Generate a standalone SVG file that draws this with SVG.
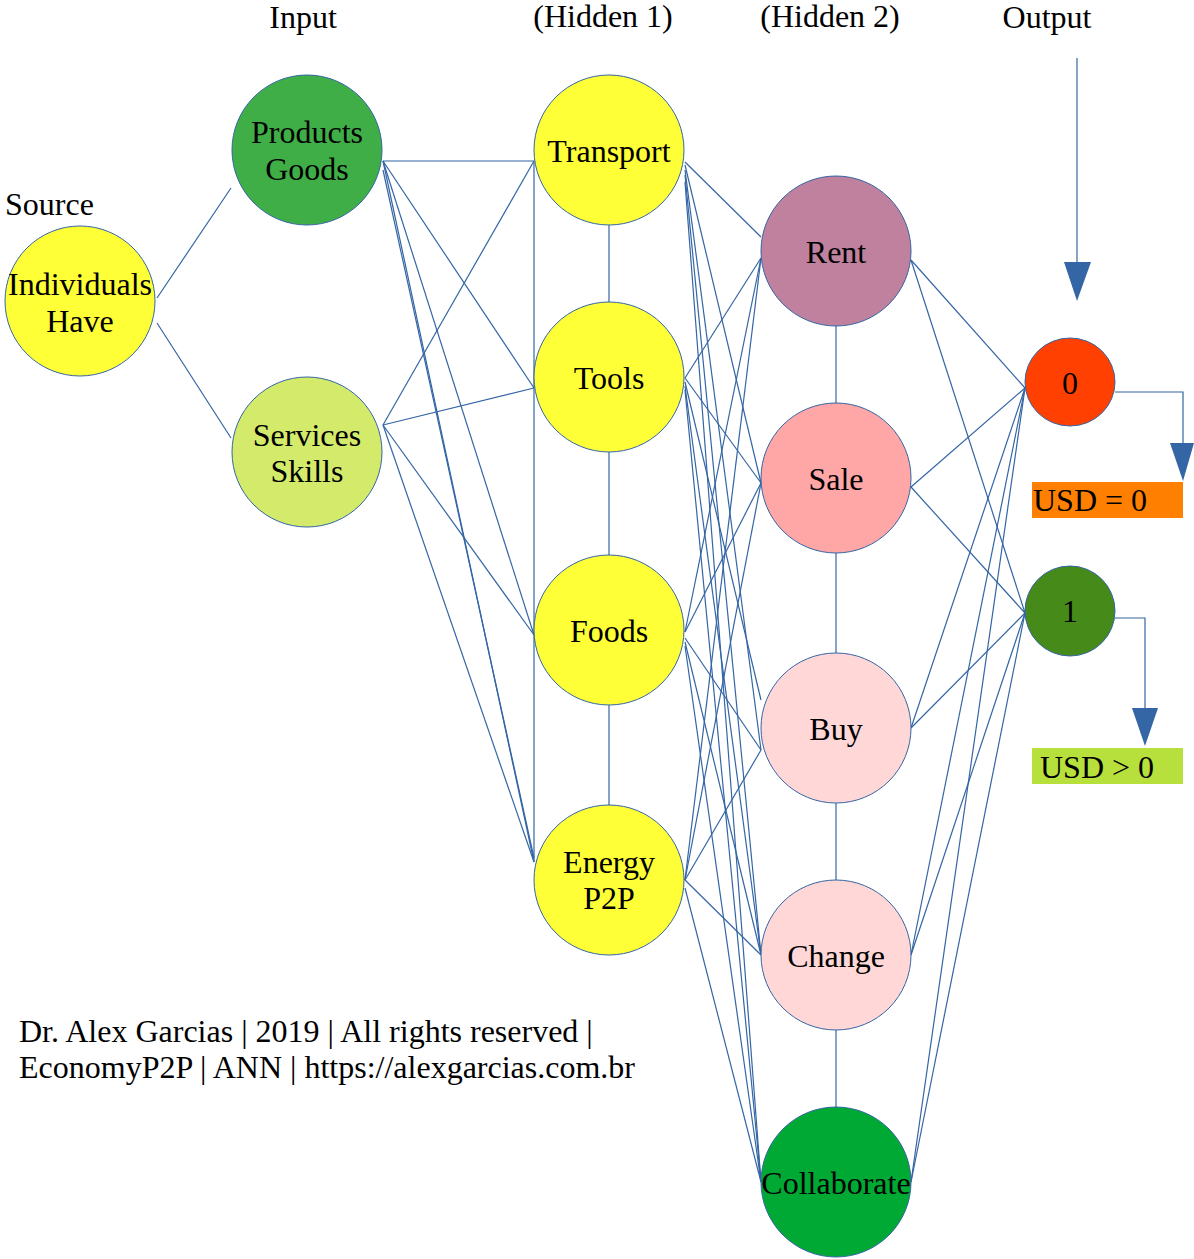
<svg xmlns="http://www.w3.org/2000/svg" width="1194" height="1259" viewBox="0 0 1194 1259">
<style>
.c{stroke:#3465a4;stroke-width:1}
.l{stroke:#3465a4;stroke-width:1.2;fill:none}
.t{font-family:"Liberation Serif","Times New Roman",serif;font-size:32px;fill:#000}
.m{text-anchor:middle}
</style>
<rect width="1194" height="1259" fill="#fff"/>
<g id="labels">
<text class="t m" x="303" y="28">Input</text>
<text class="t m" x="603" y="27">(Hidden 1)</text>
<text class="t m" x="830" y="27">(Hidden 2)</text>
<text class="t m" x="1047" y="28">Output</text>
<text class="t" x="5" y="215">Source</text>
<text class="t" x="19" y="1042">Dr. Alex Garcias | 2019 | All rights reserved |</text>
<text class="t" x="19" y="1078">EconomyP2P | ANN | https://alexgarcias.com.br</text>
</g>
<g id="connectors" class="l">
<line x1="157" y1="298" x2="231" y2="188"/>
<line x1="157" y1="323" x2="231" y2="438"/>
<line x1="383" y1="161" x2="534" y2="161"/>
<line x1="383" y1="161" x2="534" y2="388"/>
<line x1="383" y1="161" x2="534" y2="635"/>
<line x1="383" y1="161" x2="534" y2="862"/>
<line x1="383" y1="170" x2="534" y2="858"/>
<line x1="383" y1="425" x2="534" y2="161"/>
<line x1="383" y1="425" x2="534" y2="388"/>
<line x1="383" y1="425" x2="534" y2="635"/>
<line x1="383" y1="425" x2="534" y2="862"/>
<line x1="534" y1="161" x2="534" y2="862"/>
<line x1="609" y1="225" x2="609" y2="302"/>
<line x1="609" y1="452" x2="609" y2="555"/>
<line x1="609" y1="705" x2="609" y2="805"/>
<line x1="836" y1="326" x2="836" y2="403"/>
<line x1="836" y1="553" x2="836" y2="653"/>
<line x1="836" y1="803" x2="836" y2="880"/>
<line x1="836" y1="1030" x2="836" y2="1107"/>
<line x1="685" y1="162" x2="761" y2="237"/>
<line x1="685" y1="165" x2="761" y2="483"/>
<line x1="685" y1="170" x2="761" y2="750"/>
<line x1="685" y1="175" x2="761" y2="955"/>
<line x1="685" y1="182" x2="761" y2="1182"/>
<line x1="685" y1="378" x2="761" y2="258"/>
<line x1="685" y1="378" x2="761" y2="483"/>
<line x1="685" y1="382" x2="761" y2="700"/>
<line x1="685" y1="386" x2="761" y2="955"/>
<line x1="685" y1="390" x2="761" y2="1182"/>
<line x1="685" y1="632" x2="761" y2="258"/>
<line x1="685" y1="632" x2="761" y2="483"/>
<line x1="685" y1="638" x2="761" y2="750"/>
<line x1="685" y1="642" x2="761" y2="955"/>
<line x1="685" y1="646" x2="761" y2="1182"/>
<line x1="685" y1="880" x2="761" y2="258"/>
<line x1="685" y1="880" x2="761" y2="483"/>
<line x1="685" y1="880" x2="761" y2="750"/>
<line x1="685" y1="880" x2="761" y2="955"/>
<line x1="685" y1="888" x2="761" y2="1182"/>
<line x1="911" y1="260" x2="1025" y2="388"/>
<line x1="911" y1="260" x2="1025" y2="613"/>
<line x1="911" y1="487" x2="1025" y2="388"/>
<line x1="911" y1="487" x2="1025" y2="613"/>
<line x1="911" y1="728" x2="1025" y2="388"/>
<line x1="911" y1="728" x2="1025" y2="613"/>
<line x1="911" y1="955" x2="1025" y2="388"/>
<line x1="911" y1="955" x2="1025" y2="613"/>
<line x1="911" y1="1182" x2="1025" y2="388"/>
<line x1="911" y1="1182" x2="1025" y2="613"/>
<line x1="1077" y1="58" x2="1077" y2="262"/>
<polyline points="1115,392 1183,392 1183,443"/>
<polyline points="1115,618 1145,618 1145,708"/>
</g>
<g id="arrowheads" fill="#3465a4">
<polygon points="1064,262 1091,262 1077,301"/>
<polygon points="1170,443 1194,443 1183,481"/>
<polygon points="1132,708 1158,708 1145,746"/>
</g>
<g id="individuals"><circle class="c" cx="80" cy="301" r="75" fill="#ffff38"/><text class="t m" x="80" y="295">Individuals</text><text class="t m" x="80" y="332">Have</text></g>
<g id="products"><circle class="c" cx="307" cy="150" r="75" fill="#40ae47"/><text class="t m" x="307" y="143">Products</text><text class="t m" x="307" y="180">Goods</text></g>
<g id="services"><circle class="c" cx="307" cy="452" r="75" fill="#d4ea6b"/><text class="t m" x="307" y="446">Services</text><text class="t m" x="307" y="482">Skills</text></g>
<g id="transport"><circle class="c" cx="609" cy="150" r="75" fill="#ffff38"/><text class="t m" x="609" y="162">Transport</text></g>
<g id="tools"><circle class="c" cx="609" cy="377" r="75" fill="#ffff38"/><text class="t m" x="609" y="389">Tools</text></g>
<g id="foods"><circle class="c" cx="609" cy="630" r="75" fill="#ffff38"/><text class="t m" x="609" y="642">Foods</text></g>
<g id="energy"><circle class="c" cx="609" cy="880" r="75" fill="#ffff38"/><text class="t m" x="609" y="873">Energy</text><text class="t m" x="609" y="909">P2P</text></g>
<g id="rent"><circle class="c" cx="836" cy="251" r="75" fill="#bf819e"/><text class="t m" x="836" y="263">Rent</text></g>
<g id="sale"><circle class="c" cx="836" cy="478" r="75" fill="#ffa6a6"/><text class="t m" x="836" y="490">Sale</text></g>
<g id="buy"><circle class="c" cx="836" cy="728" r="75" fill="#ffd7d7"/><text class="t m" x="836" y="740">Buy</text></g>
<g id="change"><circle class="c" cx="836" cy="955" r="75" fill="#ffd7d7"/><text class="t m" x="836" y="967">Change</text></g>
<g id="collaborate"><circle class="c" cx="836" cy="1182" r="75" fill="#00a933"/><text class="t m" x="836" y="1194">Collaborate</text></g>
<g id="out0"><ellipse class="c" cx="1070" cy="382" rx="45" ry="44" fill="#ff4000"/><text class="t m" x="1070" y="394">0</text></g>
<g id="out1"><ellipse class="c" cx="1070" cy="611" rx="45" ry="45" fill="#468a1a"/><text class="t m" x="1070" y="622">1</text></g>
<g id="usd0"><rect x="1032" y="482" width="151" height="36" fill="#ff8000"/><text class="t" x="1033" y="511">USD = 0</text></g>
<g id="usd1"><rect x="1032" y="748" width="151" height="36" fill="#b8e03c"/><text class="t" x="1040" y="778">USD &gt; 0</text></g>
</svg>
